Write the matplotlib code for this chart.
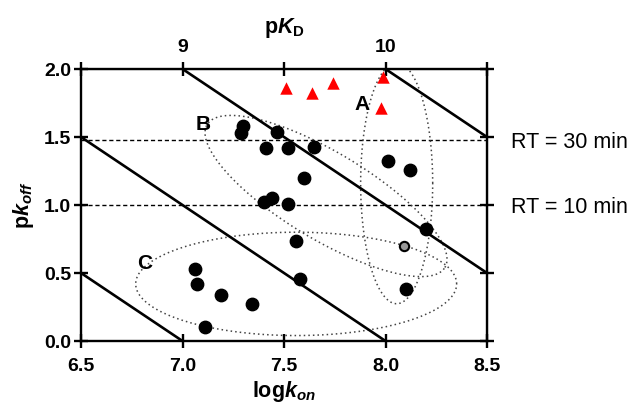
import numpy as np
import matplotlib
matplotlib.use("Agg")
import matplotlib.pyplot as plt

plt.rcParams['font.family'] = ['Liberation Sans', 'DejaVu Sans']
plt.rcParams['mathtext.fontset'] = 'custom'
plt.rcParams['mathtext.rm'] = 'Liberation Sans:bold'
plt.rcParams['mathtext.it'] = 'Liberation Sans:bold:italic'
plt.rcParams['mathtext.bf'] = 'Liberation Sans:bold'

# black circles: log kon, p koff
circ_kon = [7.30, 7.29, 7.465, 7.41, 7.52, 7.65, 7.60, 7.40, 7.44, 7.52,
            8.01, 8.12, 8.20, 7.56, 7.58, 7.06, 7.07, 7.19, 7.34, 7.11, 8.10]
circ_koff = [1.58, 1.53, 1.54, 1.42, 1.42, 1.43, 1.20, 1.02, 1.05, 1.01,
             1.32, 1.26, 0.82, 0.735, 0.455, 0.53, 0.42, 0.335, 0.275, 0.10, 0.38]

# red triangles
tri_kon = [7.51, 7.64, 7.74, 7.99, 7.98]
tri_koff = [1.86, 1.82, 1.90, 1.94, 1.71]

# grey point
grey_kon = [8.09]
grey_koff = [0.70]

# iso-affinity lines (pKD = logkon + pkoff)
pkd_lines = [7, 8, 9, 10]

# residence times (min)
rt_minutes = [30, 10]

# ellipses: centre x, centre y, semi-major, semi-minor (y units), angle (deg)
ellipses = {
    'A': (8.055, 1.16, 0.265, 0.886, 0),
    'B': (7.707, 1.066, 1.02, 0.32, -31),
    'C': (7.56, 0.42, 1.18, 0.38, 0),
}
labels = {'A': (7.885, 1.74), 'B': (7.10, 1.59), 'C': (6.815, 0.57)}

XS = 203 / 136  # screen aspect of one x unit versus one y unit

fig = plt.figure(figsize=(6.32, 4.09), dpi=100)
ax = fig.add_axes([81 / 632, 1 - 341 / 409, 406 / 632, 272 / 409])
ax.set_xlim(6.5, 8.5)
ax.set_ylim(0, 2.0)

xx = np.linspace(6.5, 8.5, 200)
for p in pkd_lines:
    ax.plot(xx, p - xx, color='black', lw=1.9, clip_on=True, zorder=2)

for rt in rt_minutes:
    ax.axhline(np.log10(rt), color='black', lw=1.0, ls=(0, (3, 2)), zorder=1)

t = np.linspace(0, 2 * np.pi, 300)
for name, (cx, cy, a, b, ang) in ellipses.items():
    th = np.deg2rad(ang)
    ex = a * np.cos(t) * np.cos(th) - b * np.sin(t) * np.sin(th)
    ey = a * np.cos(t) * np.sin(th) + b * np.sin(t) * np.cos(th)
    ax.plot(cx + ex / XS, cy + ey, color='#444444', lw=1.1, ls=(0, (1, 2)), zorder=1)
    ax.text(*labels[name], name, fontsize=15, fontweight='bold', ha='center', va='center')

ax.scatter(circ_kon, circ_koff, s=80, color='black', zorder=4)
ax.scatter(tri_kon, tri_koff, s=80, marker='^', color='red', linewidths=0, zorder=4)
ax.scatter(grey_kon, grey_koff, s=45, color='#999999', edgecolors='black', linewidths=1.5, zorder=4)

for s in ax.spines.values():
    s.set_linewidth(1.7)
ax.set_xticks([6.5, 7.0, 7.5, 8.0, 8.5])
ax.set_yticks([0.0, 0.5, 1.0, 1.5, 2.0])
ax.set_xticklabels(['6.5', '7.0', '7.5', '8.0', '8.5'])
ax.set_yticklabels(['0.0', '0.5', '1.0', '1.5', '2.0'])
ax.tick_params(direction='inout', length=10, width=1.7, labelsize=14)
ax.tick_params(axis='x', pad=7)
ax.tick_params(axis='y', pad=2)
for lab in ax.get_xticklabels() + ax.get_yticklabels():
    lab.set_fontweight('bold')
ax.set_xlabel(r'log$k_{on}$', fontsize=15.5, fontweight='bold', labelpad=3)
ax.set_ylabel(r'p$k_{off}$', fontsize=15.5, fontweight='bold', labelpad=6)

top = ax.secondary_xaxis('top')
top.set_xticks([6.5, 7.0, 7.5, 8.0, 8.5])
top.set_xticklabels(['', '9', '', '10', ''])
top.tick_params(direction='inout', length=10, width=1.7, labelsize=14, pad=4)
for lab in top.get_xticklabels():
    lab.set_fontweight('bold')
top.set_xlabel(r'p$K_\mathrm{D}$', fontsize=15.5, fontweight='bold', labelpad=5)

right = ax.secondary_yaxis('right')
right.set_yticks([np.log10(rt) for rt in rt_minutes])
right.set_yticklabels(['RT = %d min' % rt for rt in rt_minutes])
right.tick_params(length=0, labelsize=15.5, pad=17)
ax.tick_params(axis='y', right=True, direction='inout', length=10, width=1.7)
ax.tick_params(axis='x', top=False)

fig.savefig('out.png', dpi=100)
